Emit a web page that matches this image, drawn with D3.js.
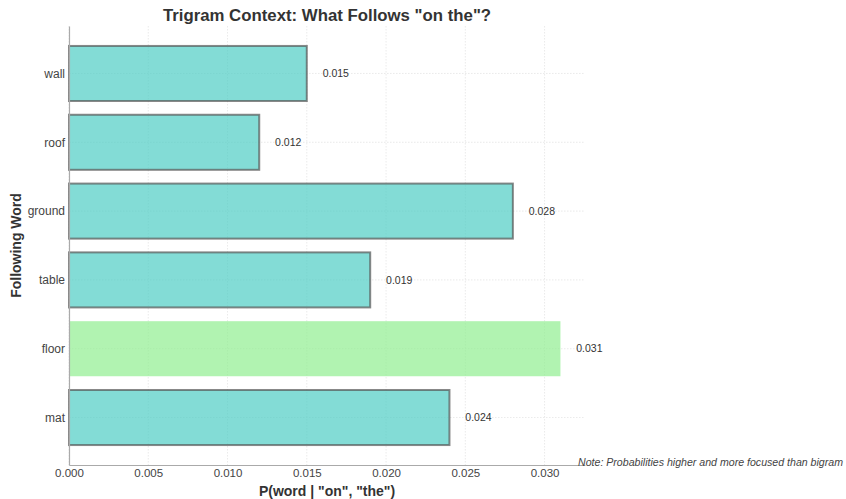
<!DOCTYPE html>
<html>
<head>
<meta charset="utf-8">
<script src="https://cdn.jsdelivr.net/npm/d3@7"></script>
<style>
  body { margin: 0; background: #fff; }
  svg { display: block; font-family: "Liberation Sans", Arial, sans-serif; }
</style>
</head>
<body>
<svg id="chart" width="846" height="499"></svg>
<script>
// Trigram continuation probabilities after "on the"
const words = ["mat", "floor", "table", "ground", "roof", "wall"];
const probs = [0.024, 0.031, 0.019, 0.028, 0.012, 0.015];
const highlighted = ["floor"];
const xTicks = [0, 0.005, 0.010, 0.015, 0.020, 0.025, 0.030];

const svg = d3.select("#chart");
const margin = { left: 69, right: 261, top: 26, bottom: 34 };
const W = 846, H = 499;
const plotW = W - margin.left - margin.right;
const plotH = H - margin.top - margin.bottom;

const xMax = d3.max(probs) * 1.05;
const x = d3.scaleLinear().domain([0, xMax]).range([margin.left, margin.left + plotW]);

// category index scale: bars sit at integer positions, 0.8 units tall, with padding
const y = d3.scaleLinear()
  .domain([-0.69, words.length - 1 + 0.69])
  .range([margin.top + plotH, margin.top]);

const g = svg.append("g");

// grid lines
g.append("g").selectAll("line").data(xTicks).join("line")
  .attr("x1", d => x(d)).attr("x2", d => x(d))
  .attr("y1", margin.top).attr("y2", margin.top + plotH)
  .attr("stroke", "#e4e4e4").attr("stroke-width", 0.8)
  .attr("stroke-dasharray", "1.5,1.5");
g.append("g").selectAll("line").data(words).join("line")
  .attr("x1", margin.left).attr("x2", margin.left + plotW)
  .attr("y1", (d, i) => y(i)).attr("y2", (d, i) => y(i))
  .attr("stroke", "#e4e4e4").attr("stroke-width", 0.8)
  .attr("stroke-dasharray", "1.5,1.5");

// bars
const barH = y(0) - y(0.8);
g.append("g").selectAll("rect").data(words).join("rect")
  .attr("x", x(0))
  .attr("y", (d, i) => y(i) - barH / 2)
  .attr("width", (d, i) => x(probs[i]) - x(0))
  .attr("height", barH)
  .attr("fill", d => highlighted.includes(d) ? "#90EE90" : "#4ECDC4")
  .attr("fill-opacity", 0.7)
  .attr("stroke", d => highlighted.includes(d) ? "none" : "#555")
  .attr("stroke-opacity", 0.7)
  .attr("stroke-width", 2);

// value labels
g.append("g").selectAll("text").data(words).join("text")
  .attr("x", (d, i) => x(probs[i] + 0.001))
  .attr("y", (d, i) => y(i))
  .attr("dy", "0.35em")
  .attr("font-size", 10.5)
  .attr("fill", "#333")
  .text((d, i) => d3.format(".3f")(probs[i]));

// axes
const xAxis = d3.axisBottom(x).tickValues(xTicks).tickFormat(d3.format(".3f")).tickSize(0).tickPadding(3.5);
const xg = svg.append("g").attr("transform", `translate(0,${margin.top + plotH})`).call(xAxis);
xg.select(".domain").attr("stroke", "#aaa").attr("stroke-width", 1.2);
xg.selectAll("text").attr("font-size", 11.5).attr("fill", "#444").attr("font-family", "Liberation Sans, Arial, sans-serif");

const yAxis = d3.axisLeft(y).tickValues(d3.range(words.length)).tickFormat(i => words[i]).tickSize(0).tickPadding(4);
const yg = svg.append("g").attr("transform", `translate(${margin.left},0)`).call(yAxis);
yg.select(".domain").attr("stroke", "#aaa").attr("stroke-width", 1.2);
yg.selectAll("text").attr("font-size", 12).attr("fill", "#444").attr("font-family", "Liberation Sans, Arial, sans-serif");

// titles
svg.append("text")
  .attr("x", margin.left + plotW / 2).attr("y", 21)
  .attr("text-anchor", "middle")
  .attr("font-size", 16.8).attr("font-weight", "bold").attr("fill", "#333")
  .text("Trigram Context: What Follows \"on the\"?");

svg.append("text")
  .attr("x", margin.left + plotW / 2).attr("y", 496)
  .attr("text-anchor", "middle")
  .attr("font-size", 14).attr("font-weight", "bold").attr("fill", "#333")
  .text("P(word | \"on\", \"the\")");

svg.append("text")
  .attr("transform", `translate(21,${margin.top + plotH / 2}) rotate(-90)`)
  .attr("text-anchor", "middle")
  .attr("font-size", 14).attr("font-weight", "bold").attr("fill", "#333")
  .text("Following Word");

svg.append("text")
  .attr("x", 843).attr("y", 466)
  .attr("text-anchor", "end")
  .attr("font-size", 10.6).attr("font-style", "italic").attr("fill", "#444")
  .text("Note: Probabilities higher and more focused than bigram");
</script>
</body>
</html>
